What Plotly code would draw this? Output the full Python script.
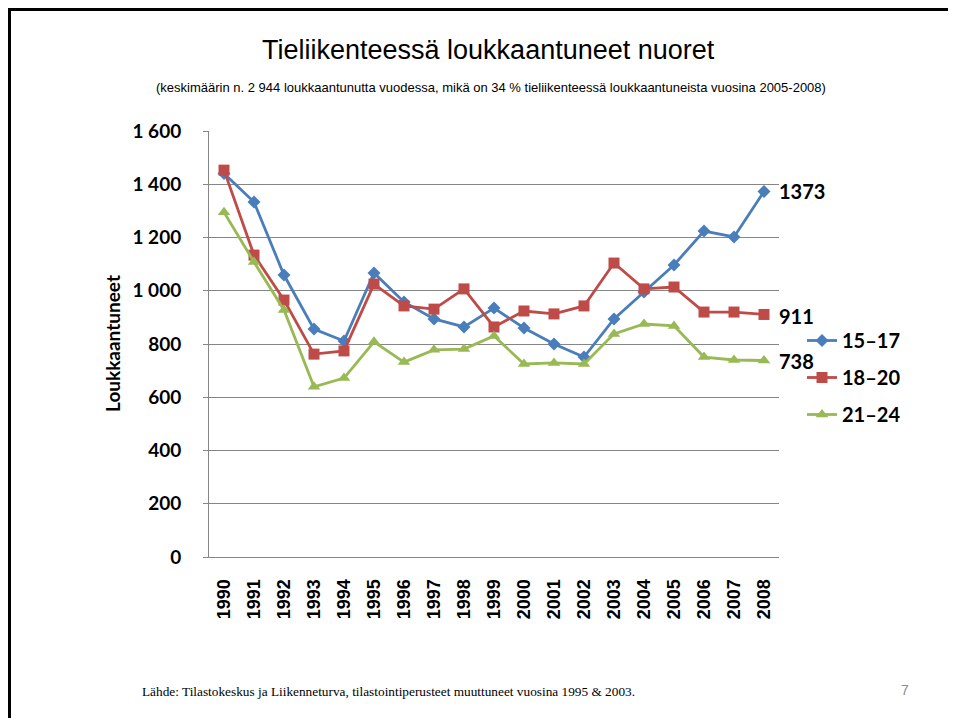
import plotly.graph_objects as go

years = [str(y) for y in range(1990, 2009)]
age_15_17 = [1440, 1333, 1059, 856, 811, 1067, 958, 894, 864, 935, 860, 800, 751, 894, 995, 1097, 1224, 1202, 1373]
age_18_20 = [1453, 1134, 965, 762, 774, 1025, 943, 931, 1007, 864, 924, 913, 943, 1104, 1007, 1014, 920, 920, 911]
age_21_24 = [1295, 1108, 928, 639, 672, 808, 732, 778, 781, 830, 725, 729, 725, 838, 875, 868, 751, 740, 738]
series_names = ["15\u201317", "18\u201320", "21\u201324"]
y_ticks = [0, 200, 400, 600, 800, 1000, 1200, 1400, 1600]

title = "Tieliikenteessä loukkaantuneet nuoret"
subtitle = "(keskimäärin n. 2 944 loukkaantunutta vuodessa, mikä on 34 % tieliikenteessä loukkaantuneista vuosina 2005-2008)"
y_title = "Loukkaantuneet"
footer = "Lähde: Tilastokeskus ja Liikenneturva, tilastointiperusteet muuttuneet vuosina 1995 &amp; 2003."
page_no = "7"

# page body has an 8px margin: work in screen pixels and convert
OFF = 8
W, H = 956 - OFF, 718 - OFF
L, R, T, B = 209 - OFF, 779 - OFF, 131 - OFF, 557 - OFF


def px(x):
    return (x - OFF - L) / (R - L)


def py(y):
    return (B - (y - OFF)) / (B - T)


colors = ["#4A7EBB", "#BE4B48", "#98B954"]
symbols = ["diamond", "square", "triangle-up"]
sizes = [10, 11, 11]
label_yshift = [0, -2, 0]
FONT = "Lato"

fig = go.Figure()
for i, (name, vals) in enumerate(zip(series_names, [age_15_17, age_18_20, age_21_24])):
    fig.add_trace(go.Scatter(
        x=years, y=vals, name=name, mode="lines+markers",
        line=dict(color=colors[i], width=2.8),
        marker=dict(symbol=symbols[i], size=sizes[i], color=colors[i]),
        legendgroup=name, cliponaxis=False,
    ))

fig.update_layout(
    width=W, height=H,
    margin=dict(l=L, r=W - R, t=T, b=H - B, pad=0),
    paper_bgcolor="white", plot_bgcolor="white",
    separators=", ",
    showlegend=True,
    legend=dict(x=px(802), xanchor="left", y=py(321), yanchor="top",
                font=dict(family=FONT, size=20, color="#000000", weight="bold"),
                tracegroupgap=8, bgcolor="rgba(0,0,0,0)"),
    xaxis=dict(type="category", categoryorder="array", categoryarray=years,
               range=[-0.5, len(years) - 0.5], autorange=False,
               showgrid=False, showline=True, linecolor="#868686",
               linewidth=1, ticks="", tickangle=-90, ticklabelstandoff=14,
               tickfont=dict(family="Liberation Sans", size=18, color="#000000", weight="bold"),
               mirror=False),
    yaxis=dict(range=[0, 1600], autorange=False, tickvals=y_ticks, tickformat=",d",
               showgrid=True, gridcolor="#868686", gridwidth=1,
               showline=True, linecolor="#868686", linewidth=1,
               ticks="outside", ticklen=5, tickcolor="#868686",
               ticklabelstandoff=18,
               tickfont=dict(family=FONT, size=19, color="#000000", weight="bold"),
               zeroline=False),
)

# end-of-line value labels, placed at the last category through the axes
last_idx = len(years) - 1
for i, vals in enumerate([age_15_17, age_18_20, age_21_24]):
    fig.add_annotation(x=last_idx, y=vals[-1], xref="x", yref="y", text=str(vals[-1]),
                       showarrow=False, xanchor="left", yanchor="middle",
                       xshift=13, yshift=label_yshift[i],
                       font=dict(family=FONT, size=20, color="#000000", weight="bold"))

ann = [
    dict(x=px(488), y=py(50), text=title, font=dict(family="Liberation Sans", size=27, color="#000000")),
    dict(x=px(491), y=py(87), text=subtitle, font=dict(family="Liberation Sans", size=13, color="#000000")),
    dict(x=px(140), y=py(691), text=footer, xanchor="left",
         font=dict(family="Liberation Serif", size=13.3, color="#000000")),
    dict(x=px(905), y=py(690), text=page_no, font=dict(family="Liberation Sans", size=14, color="#8c8c8c")),
    dict(x=px(112), y=py(344), text=y_title, textangle=-90,
         font=dict(family=FONT, size=19, color="#000000", weight="bold")),
]
for a in ann:
    a.setdefault("xanchor", "center")
    a.update(xref="paper", yref="paper", yanchor="middle", showarrow=False)
    fig.add_annotation(**a)

# slide frame (top and left edges)
fig.add_shape(type="line", xref="paper", yref="paper", x0=px(8), x1=px(956), y0=py(9.5), y1=py(9.5),
              line=dict(color="black", width=3))
fig.add_shape(type="line", xref="paper", yref="paper", x0=px(9.5), x1=px(9.5), y0=py(8), y1=py(718),
              line=dict(color="black", width=3))

fig.write_html("out.html")
